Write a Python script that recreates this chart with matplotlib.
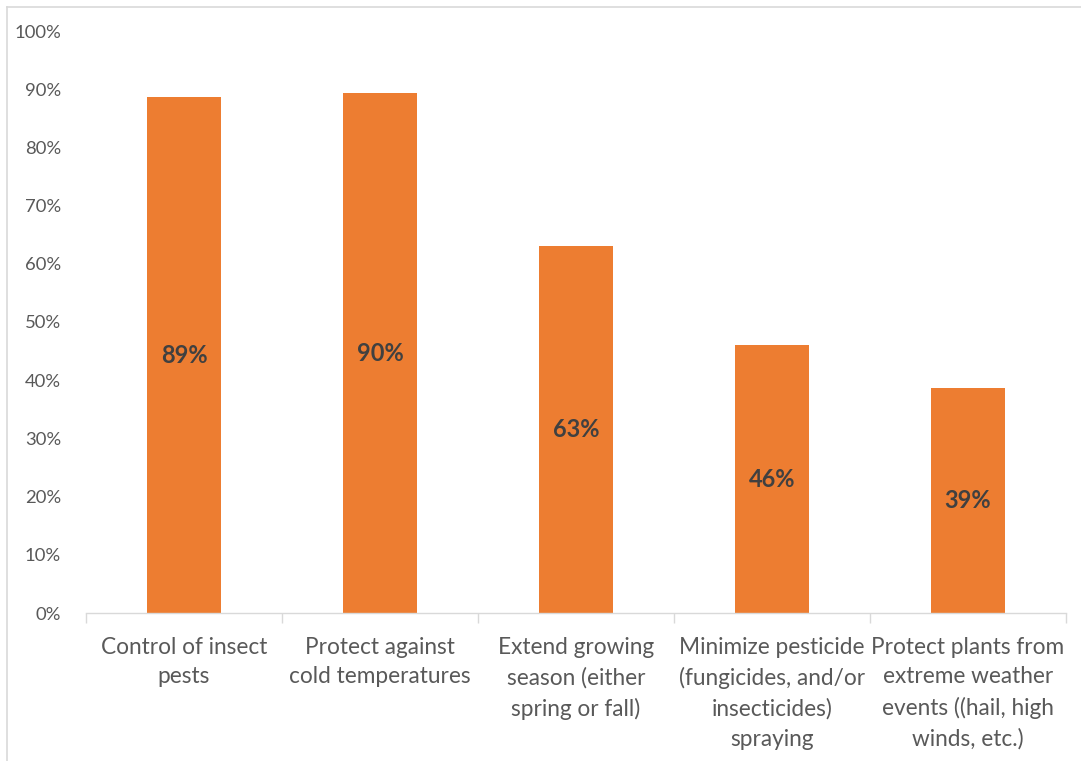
import matplotlib
matplotlib.use("Agg")
import matplotlib.pyplot as plt
from matplotlib.lines import Line2D

categories = [
    "Control of insect\npests",
    "Protect against\ncold temperatures",
    "Extend growing\nseason (either\nspring or fall)",
    "Minimize pesticide\n(fungicides, and/or\ninsecticides)\nspraying",
    "Protect plants from\nextreme weather\nevents ((hail, high\nwinds, etc.)",
]
values = [88.6, 89.3, 63.0, 46.0, 38.7]
value_labels = ["89%", "90%", "63%", "46%", "39%"]
y_ticks = [0, 10, 20, 30, 40, 50, 60, 70, 80, 90, 100]

plt.rcParams['font.family'] = ['Lato', 'DejaVu Sans']

fig = plt.figure(figsize=(10.81, 7.61), dpi=100)
ax = fig.add_axes([86 / 1081, 1 - 613 / 761, 980 / 1081, 582 / 761])

x = range(len(categories))
bars = ax.bar(x, values, width=0.38, color="#ED7D31", edgecolor="none")

for rect, lab in zip(bars, value_labels):
    ax.text(rect.get_x() + rect.get_width() / 2, rect.get_height() / 2, lab,
            ha="center", va="center", fontsize=17, fontweight="bold", color="#404040")

ax.set_xlim(-0.5, len(categories) - 0.5)
ax.set_ylim(0, 100)
ax.set_yticks(y_ticks)
ax.set_yticklabels([f"{t}%" for t in y_ticks], fontsize=13.3, color="#595959")
ax.tick_params(axis="y", length=0, pad=18)

ax.set_xticks(list(x))
ax.set_xticklabels(categories, fontsize=16.3, color="#595959", linespacing=1.52)
ax.tick_params(axis="x", which="major", length=0, pad=17)
ax.set_xticks([i - 0.5 for i in range(len(categories) + 1)], minor=True)
ax.tick_params(axis="x", which="minor", length=7, color="#D9D9D9", width=1)

for side in ["top", "right", "left"]:
    ax.spines[side].set_visible(False)
ax.spines["bottom"].set_color("#D9D9D9")
ax.spines["bottom"].set_linewidth(1)

# light frame along top and left edges
fig.add_artist(Line2D([7 / 1081, 1], [1 - 7 / 761, 1 - 7 / 761], color="#D9D9D9", lw=1.2))
fig.add_artist(Line2D([7 / 1081, 7 / 1081], [0, 1 - 7 / 761], color="#D9D9D9", lw=1.2))

fig.savefig("out.png", dpi=100)
